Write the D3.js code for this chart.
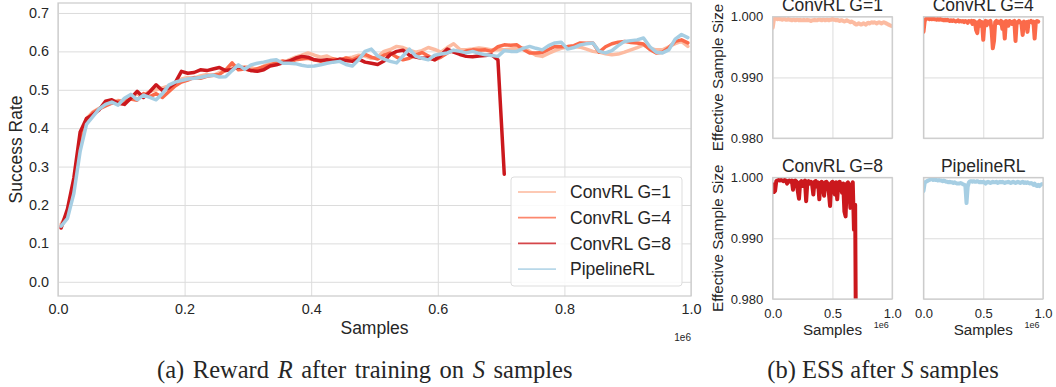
<!DOCTYPE html>
<html>
<head>
<meta charset="utf-8">
<script src="https://cdn.jsdelivr.net/npm/d3@7"></script>
<style>
  body { margin: 0; background: #fff; }
  text { font-family: "Liberation Sans", Arial, sans-serif; fill: #262626; }
  .cap { font-family: "Liberation Serif", "Times New Roman", serif; }
</style>
</head>
<body>
<div id="chart"></div>
<script>
// x positions (samples, in units of 1e6)
var samples = [0.005,0.015,0.025,0.035,0.045,0.055,0.065,0.075,0.085,0.095,
  0.105,0.115,0.125,0.135,0.145,0.155,0.165,0.175,0.185,0.195,
  0.205,0.215,0.225,0.235,0.245,0.255,0.265,0.275,0.285,0.295,
  0.305,0.315,0.325,0.335,0.345,0.355,0.365,0.375,0.385,0.395,
  0.405,0.415,0.425,0.435,0.445,0.455,0.465,0.475,0.485,0.495,
  0.505,0.515,0.525,0.535,0.545,0.555,0.565,0.575,0.585,0.595,
  0.605,0.615,0.625,0.635,0.645,0.655,0.665,0.675,0.685,0.695,
  0.705,0.715,0.725,0.735,0.745,0.755,0.765,0.775,0.785,0.795,
  0.805,0.815,0.825,0.835,0.845,0.855,0.865,0.875,0.885,0.895,
  0.905,0.915,0.925,0.935,0.945,0.955,0.965,0.975,0.985,0.995];

// success rate
var convG1 = [0.150,0.180,0.260,0.370,0.425,0.442,0.452,0.460,0.468,0.472,
  0.468,0.478,0.490,0.485,0.496,0.500,0.505,0.510,0.515,0.528,
  0.532,0.530,0.536,0.540,0.537,0.545,0.550,0.560,0.555,0.560,
  0.558,0.552,0.562,0.570,0.575,0.570,0.578,0.585,0.590,0.596,
  0.590,0.585,0.588,0.580,0.578,0.582,0.585,0.590,0.588,0.582,
  0.585,0.600,0.605,0.613,0.610,0.603,0.598,0.602,0.610,0.605,
  0.598,0.610,0.620,0.605,0.604,0.606,0.609,0.607,0.604,0.605,
  0.604,0.606,0.608,0.609,0.600,0.590,0.587,0.595,0.602,0.608,
  0.612,0.613,0.611,0.606,0.600,0.598,0.594,0.591,0.593,0.598,
  0.604,0.610,0.617,0.608,0.604,0.604,0.612,0.620,0.626,0.613];

var convG4 = [0.145,0.175,0.250,0.360,0.420,0.440,0.450,0.458,0.465,0.470,
  0.470,0.476,0.473,0.490,0.482,0.490,0.480,0.495,0.510,0.520,
  0.525,0.532,0.530,0.535,0.538,0.540,0.552,0.570,0.552,0.554,
  0.550,0.555,0.560,0.565,0.570,0.575,0.572,0.578,0.580,0.582,
  0.578,0.574,0.576,0.580,0.577,0.583,0.578,0.585,0.592,0.585,
  0.580,0.590,0.596,0.585,0.578,0.582,0.590,0.597,0.588,0.578,
  0.585,0.596,0.602,0.594,0.601,0.604,0.603,0.604,0.600,0.612,
  0.617,0.616,0.617,0.605,0.596,0.596,0.597,0.605,0.613,0.612,
  0.613,0.615,0.622,0.621,0.622,0.598,0.612,0.620,0.624,0.626,
  0.623,0.622,0.619,0.605,0.596,0.598,0.610,0.626,0.630,0.622];

var convG8 = [0.140,0.190,0.270,0.390,0.425,0.435,0.448,0.470,0.474,0.465,
  0.462,0.478,0.496,0.480,0.495,0.513,0.498,0.505,0.518,0.548,
  0.543,0.545,0.552,0.550,0.554,0.558,0.550,0.553,0.560,0.556,
  0.550,0.548,0.552,0.562,0.565,0.570,0.575,0.582,0.587,0.585,
  0.578,0.576,0.578,0.575,0.580,0.576,0.574,0.580,0.572,0.569,
  0.566,0.575,0.592,0.600,0.603,0.590,0.585,0.582,0.583,0.578,
  0.590,0.606,0.598,0.592,0.587,0.586,0.588,0.589,0.591,0.578,
  0.280];

var pipeline = [0.145,0.165,0.230,0.340,0.410,0.430,0.450,0.462,0.468,0.460,
  0.478,0.488,0.474,0.486,0.480,0.474,0.490,0.512,0.520,0.524,
  0.528,0.530,0.532,0.536,0.538,0.533,0.534,0.550,0.565,0.553,
  0.565,0.569,0.572,0.576,0.578,0.569,0.569,0.568,0.564,0.561,
  0.562,0.565,0.569,0.572,0.574,0.566,0.562,0.578,0.600,0.606,
  0.588,0.580,0.574,0.570,0.588,0.606,0.588,0.582,0.578,0.590,
  0.593,0.596,0.603,0.600,0.596,0.600,0.595,0.591,0.589,0.587,
  0.602,0.600,0.600,0.608,0.613,0.608,0.604,0.615,0.622,0.624,
  0.606,0.610,0.617,0.620,0.622,0.600,0.596,0.602,0.615,0.626,
  0.628,0.630,0.635,0.612,0.598,0.596,0.604,0.632,0.644,0.636];

// effective sample size
var essSamples = [0.00,0.01,0.02,0.03,0.04,0.05,0.06,0.07,0.08,0.09,
  0.10,0.11,0.12,0.13,0.14,0.15,0.16,0.17,0.18,0.19,
  0.20,0.21,0.22,0.23,0.24,0.25,0.26,0.27,0.28,0.29,
  0.30,0.31,0.32,0.33,0.34,0.35,0.36,0.37,0.38,0.39,
  0.40,0.41,0.42,0.43,0.44,0.45,0.46,0.47,0.48,0.49,
  0.50,0.51,0.52,0.53,0.54,0.55,0.56,0.57,0.58,0.59,
  0.60,0.61,0.62,0.63,0.64,0.65,0.66,0.67,0.68,0.69,
  0.70,0.71,0.72,0.73,0.74,0.75,0.76,0.77,0.78,0.79,
  0.80,0.81,0.82,0.83,0.84,0.85,0.86,0.87,0.88,0.89,
  0.90,0.91,0.92,0.93,0.94,0.95,0.96,0.97,0.98,0.99];

var essG1 = [0.9982,0.9995,0.9997,0.9997,0.9996,0.9997,0.9996,0.9996,0.9995,0.9996,
  0.9996,0.9995,0.9995,0.9996,0.9995,0.9995,0.9994,0.9995,0.9995,0.9994,
  0.9995,0.9995,0.9994,0.9995,0.9994,0.9994,0.9995,0.9994,0.9994,0.9995,
  0.9994,0.9994,0.9993,0.9994,0.9994,0.9995,0.9994,0.9994,0.9995,0.9995,
  0.9995,0.9994,0.9995,0.9995,0.9994,0.9995,0.9995,0.9994,0.9995,0.9995,
  0.9996,0.9995,0.9995,0.9994,0.9995,0.9994,0.9993,0.9994,0.9994,0.9993,
  0.9992,0.9993,0.9994,0.9993,0.9992,0.9991,0.9992,0.9991,0.9990,0.9988,
  0.9987,0.9988,0.9989,0.9988,0.9987,0.9988,0.9989,0.9988,0.9987,0.9989,
  0.9990,0.9989,0.9990,0.9991,0.9990,0.9991,0.9990,0.9989,0.9990,0.9991,
  0.9990,0.9989,0.9990,0.9991,0.9990,0.9989,0.9988,0.9987,0.9986,0.9985];

var essG4 = [0.9975,0.9993,0.9996,0.9997,0.9997,0.9996,0.9997,0.9996,0.9997,0.9996,
  0.9996,0.9995,0.9996,0.9995,0.9996,0.9995,0.9995,0.9994,0.9995,0.9994,
  0.9995,0.9994,0.9993,0.9994,0.9993,0.9994,0.9993,0.9992,0.9993,0.9994,
  0.9992,0.9993,0.9992,0.9993,0.9991,0.9993,0.9992,0.9990,0.9993,0.9992,
  0.9993,0.9988,0.9993,0.9992,0.9978,0.9973,0.9991,0.9993,0.9985,0.9991,
  0.9962,0.9990,0.9993,0.9986,0.9992,0.9991,0.9993,0.9978,0.9948,0.9960,
  0.9991,0.9993,0.9990,0.9992,0.9989,0.9993,0.9980,0.9991,0.9964,0.9993,
  0.9992,0.9985,0.9993,0.9991,0.9988,0.9992,0.9993,0.9960,0.9991,0.9990,
  0.9993,0.9991,0.9988,0.9970,0.9992,0.9990,0.9991,0.9975,0.9992,0.9991,
  0.9993,0.9990,0.9992,0.9964,0.9991,0.9993,0.9992];

var essG8 = [0.9989,0.9976,0.9978,0.9994,0.9995,0.9996,0.9995,0.9996,0.9995,0.9994,
  0.9996,0.9995,0.9990,0.9994,0.9995,0.9993,0.9995,0.9980,0.9994,0.9995,
  0.9993,0.9978,0.9965,0.9992,0.9994,0.9986,0.9993,0.9995,0.9961,0.9992,
  0.9994,0.9990,0.9993,0.9988,0.9972,0.9993,0.9994,0.9985,0.9992,0.9964,
  0.9991,0.9993,0.9985,0.9970,0.9992,0.9993,0.9990,0.9975,0.9953,0.9991,
  0.9993,0.9985,0.9972,0.9992,0.9964,0.9991,0.9993,0.9988,0.9975,0.9990,
  0.9944,0.9936,0.9990,0.9992,0.9982,0.9950,0.9988,0.9992,0.9914,0.9955,
  0.9600];

var essPipeline = [0.9978,0.9991,0.9993,0.9994,0.9995,0.9996,0.9997,0.9997,0.9996,0.9997,
  0.9996,0.9996,0.9995,0.9996,0.9995,0.9995,0.9994,0.9995,0.9994,0.9993,
  0.9993,0.9992,0.9993,0.9992,0.9992,0.9991,0.9992,0.9991,0.9990,0.9990,
  0.9990,0.9991,0.9990,0.9989,0.9988,0.9987,0.9958,0.9985,0.9992,0.9994,
  0.9994,0.9993,0.9994,0.9993,0.9993,0.9994,0.9993,0.9992,0.9993,0.9992,
  0.9993,0.9992,0.9990,0.9992,0.9993,0.9992,0.9991,0.9992,0.9993,0.9992,
  0.9992,0.9993,0.9991,0.9992,0.9993,0.9992,0.9993,0.9992,0.9991,0.9992,
  0.9992,0.9993,0.9992,0.9991,0.9992,0.9993,0.9992,0.9991,0.9992,0.9993,
  0.9992,0.9991,0.9992,0.9993,0.9991,0.9992,0.9991,0.9992,0.9991,0.9990,
  0.9991,0.9990,0.9988,0.9990,0.9987,0.9986,0.9988,0.9986,0.9988,0.9989];

var seriesNames = ["ConvRL G=1", "ConvRL G=4", "ConvRL G=8", "PipelineRL"];
var seriesColors = ["#fcbba1", "#fb6a4a", "#cb181d", "#a6cee3"];

var mainXTicks = [0, 0.2, 0.4, 0.6, 0.8, 1.0];
var mainYTicks = [0, 0.1, 0.2, 0.3, 0.4, 0.5, 0.6, 0.7];
var essXTicks = [0, 0.5, 1.0];
var essYTicks = [0.980, 0.990, 1.000];

var svg = d3.select("#chart").append("svg")
    .attr("width", 1056)
    .attr("height", 387);

var clipId = 0;

// grid, tick labels for one axes box
function drawAxes(g, x, y, opt) {
  var x0 = x.range()[0], x1 = x.range()[1], y0 = y.range()[0], y1 = y.range()[1];

  var ya = g.append("g")
      .attr("transform", "translate(" + x0 + ",0)")
      .call(d3.axisLeft(y).tickValues(opt.yTicks).tickSize(-(x1 - x0)).tickPadding(opt.yPad)
        .tickFormat(opt.yLabels ? d3.format(opt.yFmt) : ""));
  ya.select(".domain").remove();
  ya.attr("font-family", null).attr("font-size", opt.tickFont);
  ya.selectAll("line").attr("stroke", "#dcdcdc").attr("stroke-width", 1);
  ya.selectAll("text").attr("fill", "#262626");

  var xa = g.append("g")
      .attr("transform", "translate(0," + y0 + ")")
      .call(d3.axisBottom(x).tickValues(opt.xTicks).tickSize(-(y0 - y1)).tickPadding(opt.xPad)
        .tickFormat(opt.xLabels ? d3.format(".1f") : ""));
  xa.select(".domain").remove();
  xa.attr("font-family", null).attr("font-size", opt.tickFont);
  xa.selectAll("line").attr("stroke", "#dcdcdc").attr("stroke-width", 1);
  xa.selectAll("text").attr("fill", "#262626");
}

function drawFrame(g, x, y) {
  g.append("rect")
      .attr("x", x.range()[0]).attr("y", y.range()[1])
      .attr("width", x.range()[1] - x.range()[0])
      .attr("height", y.range()[0] - y.range()[1])
      .attr("fill", "none")
      .attr("stroke", "#cccccc")
      .attr("stroke-width", 1.25);
}

function addClip(x, y) {
  var id = "clip" + (clipId++);
  svg.append("clipPath").attr("id", id).append("rect")
      .attr("x", x.range()[0]).attr("y", y.range()[1])
      .attr("width", x.range()[1] - x.range()[0])
      .attr("height", y.range()[0] - y.range()[1]);
  return "url(#" + id + ")";
}

// ---------- (a) success rate ----------
var mainX = d3.scaleLinear().domain([0, 1]).range([58, 691]);
var mainY = d3.scaleLinear().domain([-0.037, 0.726]).range([296, 3]);

var main = svg.append("g");
drawAxes(main, mainX, mainY, {
  xTicks: mainXTicks, yTicks: mainYTicks, yFmt: ".1f",
  xLabels: true, yLabels: true, xPad: 8, yPad: 9, tickFont: 14.4
});

var mainLine = d3.line()
    .x(function (d, i) { return mainX(samples[i]); })
    .y(function (d) { return mainY(d); });

var mainClip = addClip(mainX, mainY);
[convG1, convG4, convG8, pipeline].forEach(function (s, k) {
  main.append("path")
      .datum(s)
      .attr("clip-path", mainClip)
      .attr("d", mainLine)
      .attr("fill", "none")
      .attr("stroke", seriesColors[k])
      .attr("stroke-width", 3.5)
      .attr("stroke-linejoin", "round")
      .attr("stroke-linecap", "round");
});
drawFrame(main, mainX, mainY);

main.append("text")
    .attr("transform", "translate(16,149.5) rotate(-90)")
    .attr("text-anchor", "middle")
    .attr("dy", "0.35em")
    .attr("font-size", 17.5)
    .text("Success Rate");

main.append("text")
    .attr("x", 374.5).attr("y", 334)
    .attr("text-anchor", "middle")
    .attr("font-size", 17.5)
    .text("Samples");

main.append("text")
    .attr("x", 691).attr("y", 341)
    .attr("text-anchor", "end")
    .attr("font-size", 10)
    .text("1e6");

// legend
var legend = main.append("g").attr("transform", "translate(511,177)");
legend.append("rect")
    .attr("width", 171).attr("height", 109)
    .attr("rx", 3)
    .attr("fill", "#ffffff").attr("fill-opacity", 0.85)
    .attr("stroke", "#dddddd").attr("stroke-width", 1);
var entry = legend.selectAll("g.entry")
    .data(seriesNames)
    .enter().append("g")
    .attr("class", "entry")
    .attr("transform", function (d, i) { return "translate(0," + (15 + i * 25.7) + ")"; });
entry.append("line")
    .attr("x1", 7).attr("x2", 45)
    .attr("stroke", function (d, i) { return seriesColors[i]; })
    .attr("stroke-opacity", 0.8)
    .attr("stroke-width", 1.8);
entry.append("text")
    .attr("x", 59).attr("dy", "0.35em")
    .attr("font-size", 17.5)
    .text(function (d) { return d; });

// ---------- (b) effective sample size ----------
var essPanels = [
  { name: seriesNames[0], data: essG1, color: seriesColors[0], left: 772.7, top: 16.7, yLab: true, xLab: false },
  { name: seriesNames[1], data: essG4, color: seriesColors[1], left: 923.5, top: 16.7, yLab: false, xLab: false },
  { name: seriesNames[2], data: essG8, color: seriesColors[2], left: 772.7, top: 177.5, yLab: true, xLab: true },
  { name: seriesNames[3], data: essPipeline, color: seriesColors[3], left: 923.5, top: 177.5, yLab: false, xLab: true }
];

essPanels.forEach(function (p) {
  var x = d3.scaleLinear().domain([0, 1]).range([p.left, p.left + 119.5]);
  var y = d3.scaleLinear().domain([0.98, 1.0]).range([p.top + 121.5, p.top]);
  var g = svg.append("g");
  drawAxes(g, x, y, {
    xTicks: essXTicks, yTicks: essYTicks, yFmt: ".3f",
    xLabels: p.xLab, yLabels: p.yLab, xPad: 9.5, yPad: 9.5, tickFont: 13
  });

  var essLine = d3.line()
      .x(function (d, i) { return x(essSamples[i]); })
      .y(function (d) { return y(d); });

  g.append("path")
      .datum(p.data)
      .attr("clip-path", addClip(x, y))
      .attr("d", essLine)
      .attr("fill", "none")
      .attr("stroke", p.color)
      .attr("stroke-width", 4)
      .attr("stroke-linejoin", "round")
      .attr("stroke-linecap", "round");
  drawFrame(g, x, y);

  g.append("text")
      .attr("x", p.left + 59.75).attr("y", p.top - 6)
      .attr("text-anchor", "middle")
      .attr("font-size", 17.5)
      .text(p.name);

  if (p.yLab) {
    g.append("text")
        .attr("transform", "translate(718," + (p.top + 60.75) + ") rotate(-90)")
        .attr("text-anchor", "middle")
        .attr("dy", "0.35em")
        .attr("font-size", 15.2)
        .text("Effective Sample Size");
  }
  if (p.xLab) {
    g.append("text")
        .attr("x", p.left + 59.75).attr("y", 334.5)
        .attr("text-anchor", "middle")
        .attr("font-size", 15.2)
        .text("Samples");
    g.append("text")
        .attr("x", p.left + 116).attr("y", 328)
        .attr("text-anchor", "end")
        .attr("font-size", 9)
        .text("1e6");
  }
});

// ---------- captions ----------
var capA = svg.append("text").attr("class", "cap")
    .attr("x", 157).attr("y", 378).attr("font-size", 24.5)
    .attr("word-spacing", 2.5);
capA.append("tspan").text("(a) Reward ");
capA.append("tspan").attr("font-style", "italic").text("R");
capA.append("tspan").text(" after training on ");
capA.append("tspan").attr("font-style", "italic").text("S");
capA.append("tspan").text(" samples");

var capB = svg.append("text").attr("class", "cap")
    .attr("x", 883).attr("y", 378).attr("text-anchor", "middle").attr("font-size", 24.5);
capB.append("tspan").text("(b) ESS after ");
capB.append("tspan").attr("font-style", "italic").text("S");
capB.append("tspan").text(" samples");
</script>
</body>
</html>
